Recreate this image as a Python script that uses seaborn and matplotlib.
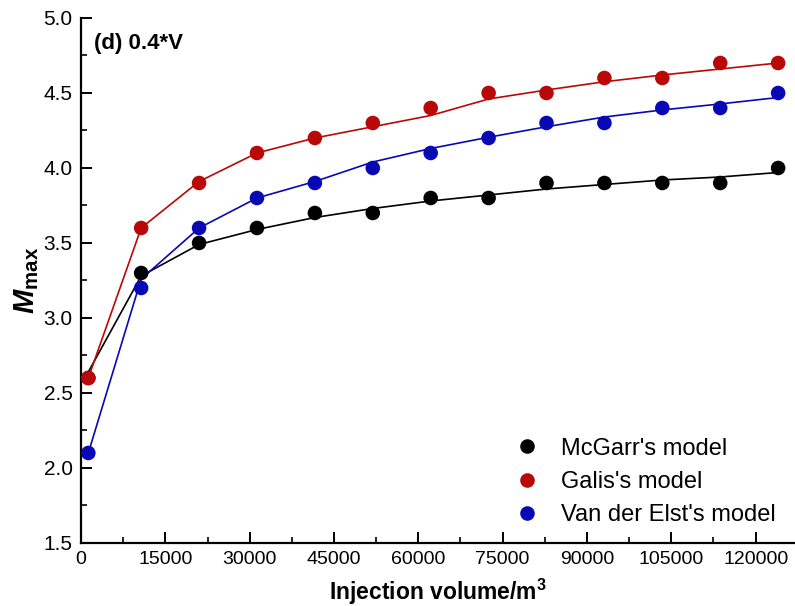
import numpy as np
import pandas as pd
import matplotlib
matplotlib.use("Agg")
import matplotlib.pyplot as plt
import seaborn as sns
from matplotlib.ticker import MultipleLocator

# 注入体积 (m^3)
volume = [1300, 10700, 21000, 31300, 41600, 51900, 62200,
          72500, 82800, 93100, 103400, 113700, 124000]

# 各模型的 Mmax 数据点
mcgarr = [2.6, 3.3, 3.5, 3.6, 3.7, 3.7, 3.8, 3.8, 3.9, 3.9, 3.9, 3.9, 4.0]
galis = [2.6, 3.6, 3.9, 4.1, 4.2, 4.3, 4.4, 4.5, 4.5, 4.6, 4.6, 4.7, 4.7]
vanderelst = [2.1, 3.2, 3.6, 3.8, 3.9, 4.0, 4.1, 4.2, 4.3, 4.3, 4.4, 4.4, 4.5]

# 拟合曲线
mcgarr_fit = [2.64, 3.28, 3.49, 3.59, 3.67, 3.73, 3.78, 3.82, 3.86, 3.89, 3.92, 3.94, 3.97]
galis_fit = [2.6, 3.6, 3.91, 4.10, 4.20, 4.275, 4.35, 4.46, 4.52, 4.575, 4.62, 4.66, 4.70]
vanderelst_fit = [2.1, 3.26, 3.6, 3.80, 3.91, 4.04, 4.13, 4.205, 4.275, 4.34, 4.387, 4.427, 4.47]

labels = ["McGarr's model", "Galis's model", "Van der Elst's model"]
colors = ["#000000", "#B80808", "#0808B4"]

pts = pd.DataFrame({
    "volume": volume * 3,
    "Mmax": mcgarr + galis + vanderelst,
    "model": [labels[0]] * len(volume) + [labels[1]] * len(volume) + [labels[2]] * len(volume),
})
fits = pd.DataFrame({
    "volume": volume * 3,
    "Mmax": mcgarr_fit + galis_fit + vanderelst_fit,
    "model": pts["model"],
})

sns.set_theme(style="ticks")
plt.rcParams["font.family"] = ["Liberation Sans", "DejaVu Sans"]
plt.rcParams["mathtext.fontset"] = "custom"
plt.rcParams["mathtext.bf"] = "Liberation Sans:bold"
plt.rcParams["mathtext.bfit"] = "Liberation Sans:italic:bold"
plt.rcParams["mathtext.it"] = "Liberation Sans:italic"
for k in ["text.color", "axes.labelcolor", "xtick.color", "ytick.color", "axes.edgecolor"]:
    plt.rcParams[k] = "black"

fig = plt.figure(figsize=(7.95, 6.06), dpi=100)
ax = fig.add_axes([0.1019, 0.104, 0.8981, 0.8663])

palette = dict(zip(labels, colors))
sns.lineplot(data=fits, x="volume", y="Mmax", hue="model", palette=palette,
             estimator=None, sort=False, linewidth=1.2, legend=False, ax=ax)
sns.scatterplot(data=pts, x="volume", y="Mmax", hue="model", palette=palette,
                s=110, linewidth=0, zorder=3, ax=ax)

ax.set_xlim(0, 127000)
ax.set_ylim(1.5, 5.0)
ax.xaxis.set_major_locator(MultipleLocator(15000))
ax.xaxis.set_minor_locator(MultipleLocator(7500))
ax.yaxis.set_major_locator(MultipleLocator(0.5))
ax.yaxis.set_minor_locator(MultipleLocator(0.25))
ax.yaxis.set_major_formatter(matplotlib.ticker.FormatStrFormatter("%.1f"))

ax.tick_params(which="major", direction="in", length=8, width=1.4, color="black", pad=6)
ax.tick_params(axis="x", which="major", labelsize=14)
ax.tick_params(axis="y", which="major", labelsize=15)
ax.tick_params(which="minor", direction="in", length=4, width=1.2, color="black")
for s in ["top", "right"]:
    ax.spines[s].set_visible(False)
for s in ["left", "bottom"]:
    ax.spines[s].set_linewidth(1.6)

ax.set_xlabel(r"Injection volume/m$^{\mathbf{3}}$", fontsize=16.5, fontweight="bold", labelpad=6)
ax.set_ylabel(r"$\mathbfit{M}_{\mathbf{max}}$", fontsize=21, labelpad=2)

ax.text(0.018, 0.952, "(d) 0.4*V", transform=ax.transAxes, fontsize=16,
        fontweight="bold", va="center", ha="left")

handles, lbls = ax.get_legend_handles_labels()
ax.legend(handles, lbls, loc="lower right", bbox_to_anchor=(1.003, -0.008), frameon=False,
          fontsize=17, handletextpad=0.45, labelspacing=0.47, markerscale=1.0)

fig.savefig("out.png", dpi=100)
